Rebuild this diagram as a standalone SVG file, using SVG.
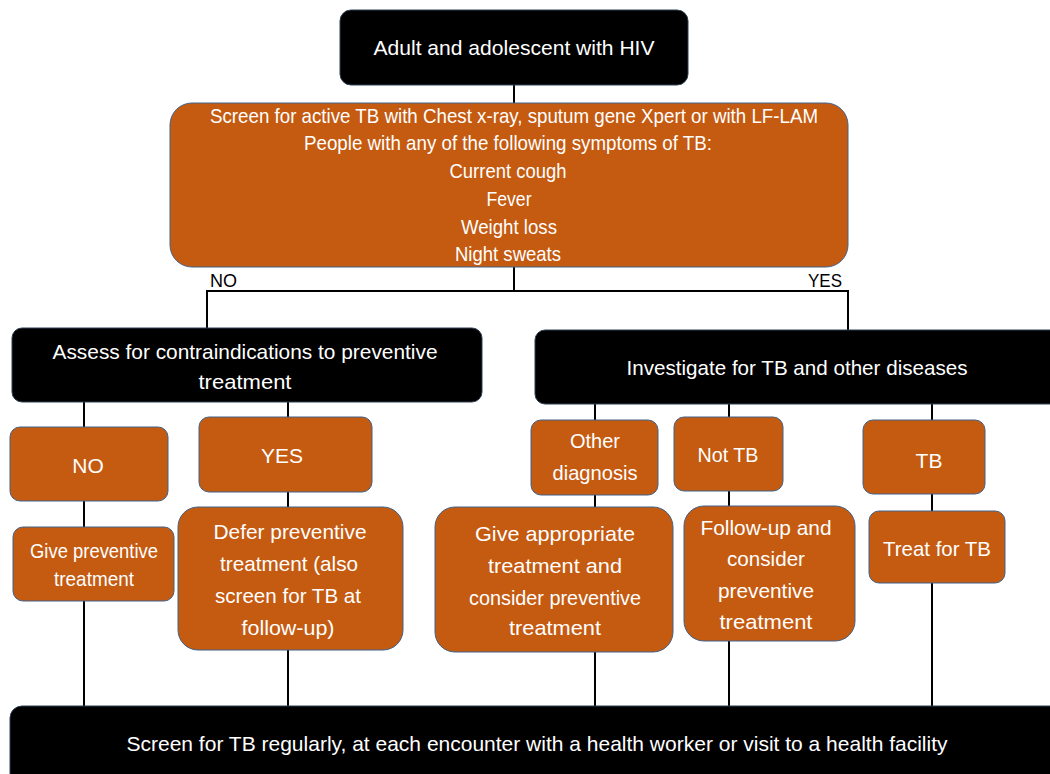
<svg xmlns="http://www.w3.org/2000/svg" width="1050" height="774" viewBox="0 0 1050 774">
  <style>
    .dark { fill: #000000; stroke: #2f3f55; stroke-width: 1; }
    .orange { fill: #C55A11; stroke: #41628a; stroke-width: 1; }
    .lbl { font-family: "Liberation Sans", Arial, sans-serif; fill: #ffffff; text-anchor: middle; font-size: 21px; }
    .blk { font-family: "Liberation Sans", Arial, sans-serif; fill: #000000; font-size: 19px; }
    .wire { stroke: #000000; stroke-width: 2; fill: none; }
  </style>
  <rect width="1050" height="774" fill="#ffffff"/>

  <!-- connectors -->
  <g id="connectors">
    <path class="wire" d="M514 85 V103"/>
    <path class="wire" d="M514 267 V291 M207 330 V291 H848 V330"/>
    <path class="wire" d="M84 402 V427 M288 402 V417"/>
    <path class="wire" d="M84 501 V527 M288 492 V507"/>
    <path class="wire" d="M84 601 V706 M288 650 V706"/>
    <path class="wire" d="M595 404 V420 M729 404 V417 M932 404 V420"/>
    <path class="wire" d="M595 495 V507 M729 491 V506 M932 494 V511"/>
    <path class="wire" d="M595 652 V706 M729 641 V706 M932 583 V706"/>
  </g>

  <g id="start">
    <rect class="dark" x="340" y="10" width="348" height="75" rx="11"/>
    <text class="lbl" font-size="22" x="514" y="55" textLength="281" lengthAdjust="spacingAndGlyphs">Adult and adolescent with HIV</text>
  </g>

  <g id="screen">
    <rect class="orange" x="170" y="103" width="678" height="164" rx="22"/>
    <text class="lbl" font-size="19" x="514" y="123" textLength="608" lengthAdjust="spacingAndGlyphs">Screen for active TB with Chest x-ray, sputum gene Xpert or with LF-LAM</text>
    <text class="lbl" font-size="19" x="508" y="150" textLength="408" lengthAdjust="spacingAndGlyphs">People with any of the following symptoms of TB:</text>
    <text class="lbl" font-size="19" x="508" y="178" textLength="117" lengthAdjust="spacingAndGlyphs">Current cough</text>
    <text class="lbl" font-size="19" x="509" y="206" textLength="45" lengthAdjust="spacingAndGlyphs">Fever</text>
    <text class="lbl" font-size="19" x="509" y="234" textLength="96" lengthAdjust="spacingAndGlyphs">Weight loss</text>
    <text class="lbl" font-size="19" x="508" y="261" textLength="106" lengthAdjust="spacingAndGlyphs">Night sweats</text>
  </g>

  <g id="branch-labels">
    <text class="blk" x="210" y="287" textLength="27" lengthAdjust="spacingAndGlyphs">NO</text>
    <text class="blk" x="808" y="287" textLength="34" lengthAdjust="spacingAndGlyphs">YES</text>
  </g>

  <g id="assess">
    <rect class="dark" x="12" y="328" width="470" height="74" rx="10"/>
    <text class="lbl" x="245" y="359" textLength="385" lengthAdjust="spacingAndGlyphs">Assess for contraindications to preventive</text>
    <text class="lbl" x="245" y="389" textLength="93" lengthAdjust="spacingAndGlyphs">treatment</text>
  </g>

  <g id="investigate">
    <rect class="dark" x="535" y="330" width="530" height="74" rx="10"/>
    <text class="lbl" x="797" y="375" textLength="341" lengthAdjust="spacingAndGlyphs">Investigate for TB and other diseases</text>
  </g>

  <g id="no">
    <rect class="orange" x="10" y="427" width="158" height="74" rx="10"/>
    <text class="lbl" x="88" y="473">NO</text>
  </g>

  <g id="yes">
    <rect class="orange" x="199" y="417" width="173" height="75" rx="10"/>
    <text class="lbl" x="282" y="463">YES</text>
  </g>

  <g id="give-preventive">
    <rect class="orange" x="13" y="527" width="161" height="74" rx="10"/>
    <text class="lbl" font-size="19" x="94" y="558" textLength="128" lengthAdjust="spacingAndGlyphs">Give preventive</text>
    <text class="lbl" font-size="19" x="94" y="586" textLength="80" lengthAdjust="spacingAndGlyphs">treatment</text>
  </g>

  <g id="defer">
    <rect class="orange" x="178" y="507" width="225" height="143" rx="20"/>
    <text class="lbl" x="290" y="539" textLength="153" lengthAdjust="spacingAndGlyphs">Defer preventive</text>
    <text class="lbl" x="289" y="571" textLength="138" lengthAdjust="spacingAndGlyphs">treatment (also</text>
    <text class="lbl" x="288" y="603" textLength="146" lengthAdjust="spacingAndGlyphs">screen for TB at</text>
    <text class="lbl" x="288" y="635" textLength="93" lengthAdjust="spacingAndGlyphs">follow-up)</text>
  </g>

  <g id="other-diagnosis">
    <rect class="orange" x="531" y="420" width="127" height="75" rx="10"/>
    <text class="lbl" x="595" y="448" textLength="50" lengthAdjust="spacingAndGlyphs">Other</text>
    <text class="lbl" x="595" y="480" textLength="85" lengthAdjust="spacingAndGlyphs">diagnosis</text>
  </g>

  <g id="not-tb">
    <rect class="orange" x="674" y="417" width="109" height="74" rx="10"/>
    <text class="lbl" x="728" y="462" textLength="61" lengthAdjust="spacingAndGlyphs">Not TB</text>
  </g>

  <g id="tb">
    <rect class="orange" x="863" y="420" width="122" height="74" rx="10"/>
    <text class="lbl" x="929" y="468">TB</text>
  </g>

  <g id="give-appropriate">
    <rect class="orange" x="435" y="507" width="238" height="145" rx="20"/>
    <text class="lbl" x="555" y="541" textLength="160" lengthAdjust="spacingAndGlyphs">Give appropriate</text>
    <text class="lbl" x="555" y="573" textLength="134" lengthAdjust="spacingAndGlyphs">treatment and</text>
    <text class="lbl" x="555" y="605" textLength="172" lengthAdjust="spacingAndGlyphs">consider preventive</text>
    <text class="lbl" x="555" y="635" textLength="92" lengthAdjust="spacingAndGlyphs">treatment</text>
  </g>

  <g id="follow-up">
    <rect class="orange" x="684" y="506" width="171" height="135" rx="20"/>
    <text class="lbl" x="766" y="535" textLength="131" lengthAdjust="spacingAndGlyphs">Follow-up and</text>
    <text class="lbl" x="766" y="566" textLength="78" lengthAdjust="spacingAndGlyphs">consider</text>
    <text class="lbl" x="766" y="598" textLength="96" lengthAdjust="spacingAndGlyphs">preventive</text>
    <text class="lbl" x="766" y="629" textLength="93" lengthAdjust="spacingAndGlyphs">treatment</text>
  </g>

  <g id="treat-tb">
    <rect class="orange" x="869" y="511" width="136" height="72" rx="10"/>
    <text class="lbl" x="937" y="556" textLength="108" lengthAdjust="spacingAndGlyphs">Treat for TB</text>
  </g>

  <g id="screen-regularly">
    <rect class="dark" x="10" y="706" width="1060" height="80" rx="12"/>
    <text class="lbl" font-size="23" x="537" y="751" textLength="821" lengthAdjust="spacingAndGlyphs">Screen for TB regularly, at each encounter with a health worker or visit to a health facility</text>
  </g>
</svg>
